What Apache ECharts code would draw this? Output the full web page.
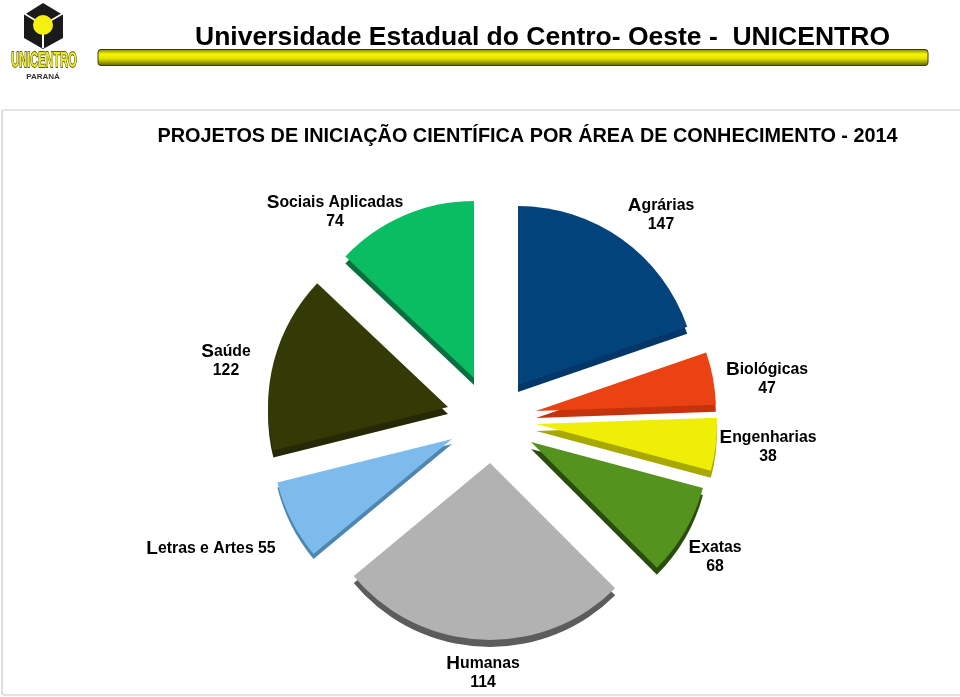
<!DOCTYPE html>
<html><head><meta charset="utf-8">
<style>html,body{margin:0;padding:0;background:#fff}#c{width:960px;height:697px}</style>
<script src="https://cdn.jsdelivr.net/npm/echarts@6/dist/echarts.min.js"></script>
</head><body><div id="c"></div>
<script>
const categories = ['Agrárias','Biológicas','Engenharias','Exatas','Humanas','Letras e Artes','Saúde','Sociais Aplicadas'];
const projectCounts = [147,47,38,68,114,55,122,74];
// Wedge sweeps as drawn in the picture, in degrees (the original's wedges are not proportional to its labels)
const drawnSweeps = [71,17,17,30,95.3,25.7,57.4,46.6];

const FONT = '"Liberation Sans", Arial, sans-serif';
const hub = [495,415];
const explode = [[23,-30],[41,-4],[41,9],[36,27],[-5,48],[-43,24],[-47,-8],[-21,-37]];
const radii = [179,180,181,178,177,180,180,177];
const faces = ['#03437C','#EA4212','#EEEE06','#54931E','#B2B2B2','#7CBBEC','#343A06','#0ABD62'];
const sides = ['#03376A','#C5330C','#A8A800','#2A4D0E','#5C5C5C','#4F86B0','#252906','#07703E'];
const labelAt = [[661,215],[767,379],[768,447],[715,557],[483,673],[211,549],[226,361],[335,212]];

let cum = 0;
const series = categories.map((name,i)=>{
  const a = cum; cum += drawnSweeps[i];
  const oneLine = name === 'Letras e Artes';
  return {
    type:'pie', silent:true, animation:false, clockwise:true,
    center:[hub[0]+explode[i][0], hub[1]+explode[i][1]],
    radius:[0,radii[i]],
    startAngle:90-a, endAngle:90-cum,
    z: i===4?3:2,
    itemStyle:{color:faces[i],borderWidth:0,shadowColor:sides[i],shadowBlur:0,shadowOffsetX:0,shadowOffsetY:i===5?5:7},
    labelLine:{show:false},
    label:{show:true,position:'outside',
      formatter:p=>'{a|'+p.name[0]+'}{b|'+p.name.slice(1)+'}'+(oneLine?'{b| }':'\n')+'{b|'+p.value+'}',
      rich:{a:{fontFamily:FONT,fontWeight:'bold',fontSize:19,color:'#000',lineHeight:19},
            b:{fontFamily:FONT,fontWeight:'bold',fontSize:15.8,color:'#000',lineHeight:19}}},
    labelLayout:()=>({x:labelAt[i][0],y:labelAt[i][1],align:'center',verticalAlign:'middle',hideOverlap:false}),
    data:[{name,value:projectCounts[i]}]
  };
});

const chart = echarts.init(document.getElementById('c'),null,{renderer:'canvas'});
chart.setOption({
  backgroundColor:'#fff',
  animation:false,
  title:{text:'PROJETOS DE INICIAÇÃO CIENTÍFICA POR ÁREA DE CONHECIMENTO - 2014',left:522.5,top:122,textAlign:'center',
    textStyle:{fontFamily:FONT,fontWeight:'bold',fontSize:19.85,color:'#000'}},
  graphic:[
    {type:'rect',silent:true,shape:{x:2,y:110,width:970,height:585,r:2},style:{fill:'none',stroke:'#c9c9c9',lineWidth:1.2}},
    {type:'text',silent:true,x:195,y:38,style:{text:'Universidade Estadual do Centro- Oeste -  UNICENTRO',font:'bold 26.5px '+FONT,fill:'#000',verticalAlign:'middle'}},
    {type:'rect',silent:true,shape:{x:98,y:49.5,width:830,height:16,r:3},
      style:{stroke:'#3a3a10',lineWidth:1,fill:new echarts.graphic.LinearGradient(0,0,0,1,[
        {offset:0,color:'#7d7d00'},{offset:.3,color:'#f6f600'},{offset:.55,color:'#e6e600'},{offset:1,color:'#5e5e00'}])}},
    // logo
    {type:'polygon',silent:true,shape:{points:[[43,3],[63,15],[63,38],[43,49],[24,38],[24,15]]},style:{fill:'#1a1a1a'}},
    {type:'line',silent:true,shape:{x1:43,y1:25,x2:25,y2:14},style:{stroke:'#fff',lineWidth:1.5}},
    {type:'line',silent:true,shape:{x1:43,y1:25,x2:62,y2:14},style:{stroke:'#fff',lineWidth:1.5}},
    {type:'line',silent:true,shape:{x1:43,y1:25,x2:43,y2:48},style:{stroke:'#fff',lineWidth:2}},
    {type:'circle',silent:true,shape:{cx:43,cy:25,r:10},style:{fill:'#F5F010'}},
    {type:'text',silent:true,x:44,y:61,scaleX:.5,scaleY:1,style:{text:'UNICENTRO',font:'bold 22px '+FONT,fill:'#EFEA1A',stroke:'#222',lineWidth:1.4,align:'center',verticalAlign:'middle'}},
    {type:'text',silent:true,x:43,y:77,style:{text:'PARANÁ',font:'bold 8px '+FONT,fill:'#333',align:'center',verticalAlign:'middle'}}
  ],
  series
});
</script></body></html>
